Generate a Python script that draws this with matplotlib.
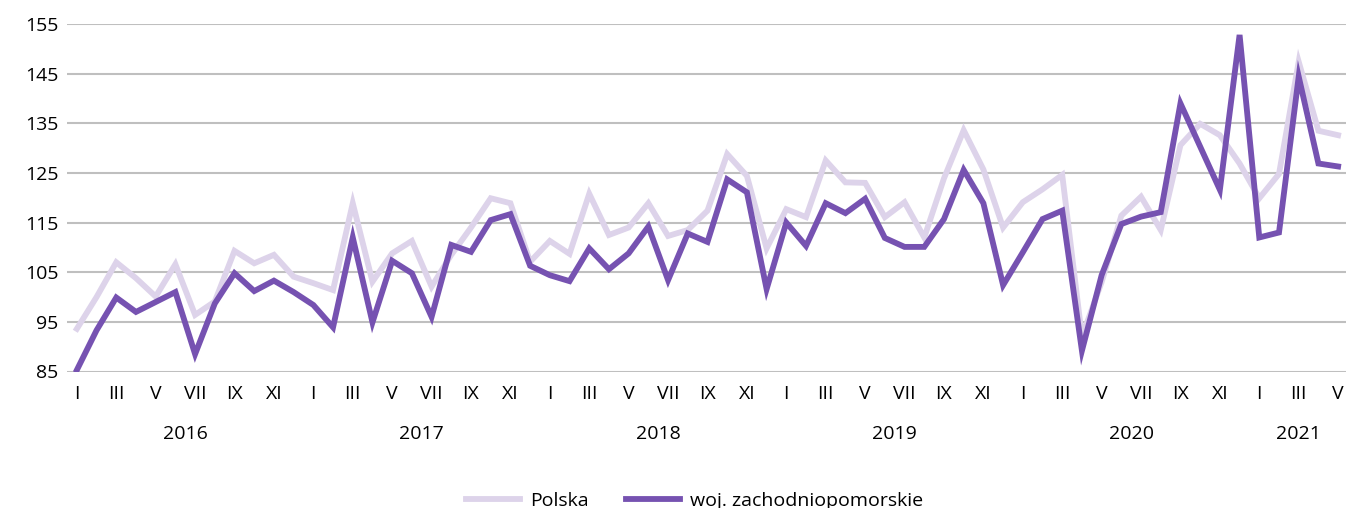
import matplotlib
matplotlib.use('Agg')
import matplotlib.pyplot as plt

# Dane miesięczne I 2016 - V 2021
lata = ['2016', '2017', '2018', '2019', '2020', '2021']
miesiace = ['I', 'II', 'III', 'IV', 'V', 'VI', 'VII', 'VIII', 'IX', 'X', 'XI', 'XII']

polska = [93.6, 100.0, 107.0, 103.8, 100.1, 106.6, 96.4, 99.1, 109.3, 106.8, 108.5, 104.1,
          102.8, 101.4, 118.9, 103.1, 108.8, 111.3, 102.1, 108.5, 114.0, 119.9, 118.9, 107.1,
          111.3, 108.7, 120.8, 112.5, 114.0, 118.9, 112.3, 113.5, 117.4, 128.8, 124.4, 109.8,
          117.7, 116.1, 127.5, 123.1, 123.0, 116.1, 119.1, 112.0, 123.9, 133.6, 125.7, 114.0,
          119.1, 121.7, 124.6, 92.0, 103.0, 116.4, 120.2, 113.5, 130.6, 134.9, 132.6, 126.9,
          119.9, 124.8, 147.4, 133.5, 132.6]

zachodniopomorskie = [85.3, 93.3, 99.9, 97.0, 99.0, 101.0, 88.5, 98.7, 104.8, 101.2, 103.3, 101.0,
                      98.4, 93.9, 112.0, 94.9, 107.3, 104.8, 96.0, 110.5, 109.1, 115.5, 116.7, 106.3,
                      104.4, 103.2, 109.8, 105.6, 108.8, 114.2, 103.4, 112.8, 111.1, 123.7, 121.1, 101.6,
                      115.0, 110.3, 118.9, 116.9, 119.8, 111.9, 110.1, 110.1, 115.7, 125.6, 118.9, 102.4,
                      109.0, 115.7, 117.4, 89.2, 104.4, 114.7, 116.2, 117.1, 139.0, 130.3, 121.6, 152.8,
                      112.0, 113.0, 144.4, 126.9, 126.3]

plt.rcParams['font.family'] = ['Open Sans', 'DejaVu Sans']

fig = plt.figure(figsize=(13.46, 5.08), dpi=100)
ax = fig.add_axes([67 / 1346, 136.5 / 508, 1 - 67 / 1346, (371.5 - 24) / 508])

x = list(range(len(polska)))
ax.plot(x, polska, color='#DDD3EA', linewidth=4.2, solid_joinstyle='miter', label='Polska', zorder=3)
ax.plot(x, zachodniopomorskie, color='#7652B1', linewidth=4.2, solid_joinstyle='miter',
        label='woj. zachodniopomorskie', zorder=4)

ax.set_ylim(85, 155)
ax.set_xlim(-0.5, 64.4)
ax.set_yticks(range(85, 156, 10))
ax.grid(axis='y', color='#BFBFBF', linewidth=1.5, zorder=0)
ax.set_axisbelow(True)
for s in ax.spines.values():
    s.set_visible(False)

ticki = [i for i in x if i % 2 == 0]
ax.set_xticks(ticki)
ax.set_xticklabels([miesiace[i % 12] for i in ticki])
ax.tick_params(axis='both', length=0, labelsize=14, colors='black')
ax.tick_params(axis='x', pad=10)
ax.tick_params(axis='y', pad=6)

# podpisy lat pod miesiącami
for k, rok in enumerate(lata):
    start = k * 12
    koniec = min(start + 11, len(x) - 1)
    ax.text((start + koniec) / 2, -0.18, rok, transform=ax.get_xaxis_transform(),
            ha='center', va='center', fontsize=14)

fig.legend(loc='center', bbox_to_anchor=(0.516, 0.014), ncol=2, frameon=False,
           fontsize=14, handlelength=2.8, columnspacing=1.9, handletextpad=0.5)

fig.savefig('out.png', dpi=100)
